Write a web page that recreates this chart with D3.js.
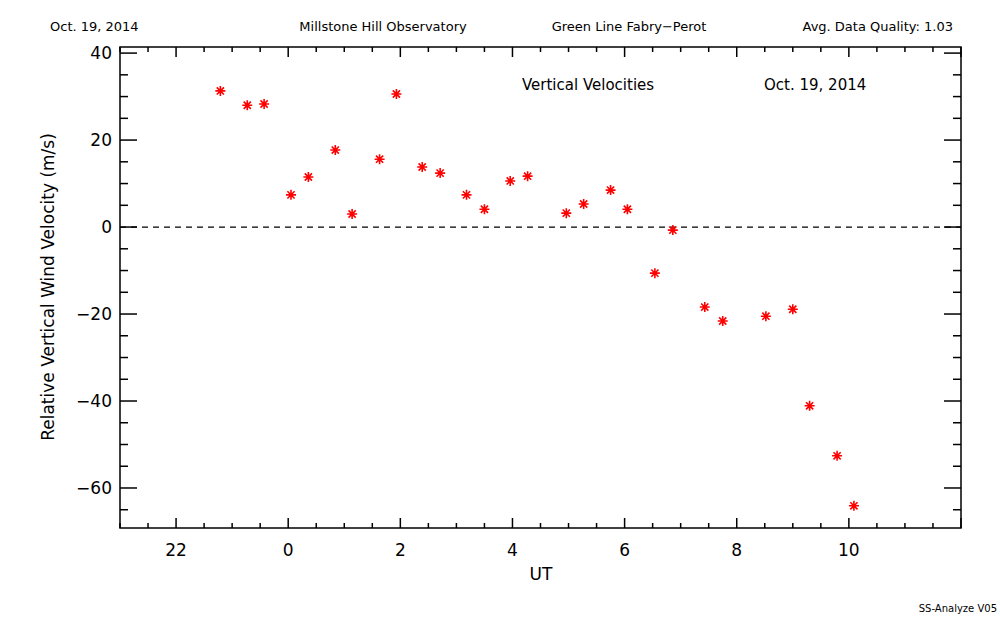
<!DOCTYPE html><html><head><meta charset="utf-8"><script src="https://cdn.jsdelivr.net/npm/d3@7"></script>
<style>body{margin:0;background:#fff}</style></head><body><svg width="1000" height="625"></svg><script>
const hours=[-1.21,-0.73,-0.43,0.05,0.36,0.84,1.14,1.63,1.93,2.39,2.71,3.18,3.5,3.96,4.27,4.96,5.27,5.75,6.05,6.54,6.86,7.43,7.75,8.52,9.0,9.30,9.79,10.09];
const velocities=[31.3,28.0,28.3,7.4,11.5,17.7,3.0,15.6,30.6,13.8,12.4,7.4,4.1,10.6,11.7,3.2,5.3,8.5,4.1,-10.6,-0.7,-18.4,-21.6,-20.5,-18.9,-41.1,-52.6,-64.1];
const xTicks=[-2,0,2,4,6,8,10], xTickLabels=["22","0","2","4","6","8","10"];
const yTicks=[-60,-40,-20,0,20,40];
const svg=d3.select("svg"),F="DejaVu Sans, sans-serif";
const L=120,R=961,T=47,B=528;
const x=d3.scaleLinear().domain([-3,12]).range([L,R]);
const y=d3.scaleLinear().domain([-69.2,41.4]).range([B,T]);
const g=svg.append("g").attr("stroke","#000").attr("stroke-width",1.5);
g.append("rect").attr("x",L).attr("y",T).attr("width",R-L).attr("height",B-T).attr("fill","none");
d3.range(-3,12.01,0.5).forEach(v=>{const M=Math.abs(v%2)<1e-6,l=M?10:5;
 g.append("line").attr("x1",x(v)).attr("x2",x(v)).attr("y1",B).attr("y2",B-l);
 g.append("line").attr("x1",x(v)).attr("x2",x(v)).attr("y1",T).attr("y2",T+l);});
d3.range(-65,41,5).forEach(v=>{const M=v%20===0,l=M?17:8;
 g.append("line").attr("y1",y(v)).attr("y2",y(v)).attr("x1",L).attr("x2",L+l);
 g.append("line").attr("y1",y(v)).attr("y2",y(v)).attr("x1",R).attr("x2",R-l);});
xTicks.forEach((v,i)=>svg.append("text").attr("x",x(v)).attr("y",556).attr("text-anchor","middle").attr("font-family",F).attr("font-size",17).text(xTickLabels[i]));
yTicks.forEach(v=>svg.append("text").attr("x",L-8).attr("y",y(v)+6).attr("text-anchor","end").attr("font-family",F).attr("font-size",17).text(v<0?"\u2212"+(-v):v));
svg.append("line").attr("x1",L).attr("x2",R).attr("y1",y(0)).attr("y2",y(0)).attr("stroke","#000").attr("stroke-width",1.2).attr("stroke-dasharray","6,5");
svg.append("text").attr("x",541).attr("y",580).attr("text-anchor","middle").attr("font-family",F).attr("font-size",17).text("UT");
svg.append("text").attr("transform","translate(54,287) rotate(-90)").attr("text-anchor","middle").attr("font-family",F).attr("font-size",17).text("Relative Vertical Wind Velocity (m/s)");
const t=(X,Y,s,a,sz)=>svg.append("text").attr("x",X).attr("y",Y).attr("text-anchor",a||"start").attr("font-family",F).attr("font-size",sz||13).text(s);
t(50,31,"Oct. 19, 2014");t(383,31,"Millstone Hill Observatory","middle");t(629,31,"Green Line Fabry\u2212Perot","middle");t(953,31,"Avg. Data Quality: 1.03","end");
t(522,90,"Vertical Velocities","start",15);t(764,90,"Oct. 19, 2014","start",15);t(997,612,"SS-Analyze V05","end",10);
const p=svg.append("g").attr("stroke","red").attr("stroke-width",1.6);
hours.forEach((h,i)=>{const cx=x(h),cy=y(velocities[i]),r=5,d=3.6;
 p.append("path").attr("d",`M${cx-r},${cy}H${cx+r}M${cx},${cy-r}V${cy+r}M${cx-d},${cy-d}L${cx+d},${cy+d}M${cx-d},${cy+d}L${cx+d},${cy-d}`);});
</script></body></html>
